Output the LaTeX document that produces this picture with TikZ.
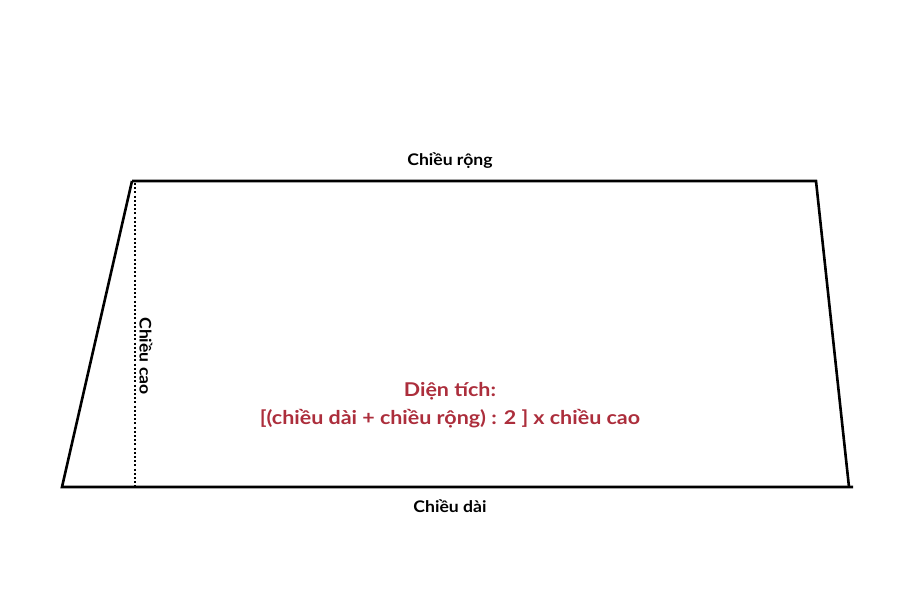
\documentclass[tikz,border=0pt]{standalone}
\usepackage{fontspec}
\setmainfont{Lato}
\newfontfamily\lblfont{Lato}[FakeStretch=1.1]
\newfontfamily\formfont{Lato}[FakeStretch=1.13]
\definecolor{titlered}{RGB}{172,46,60}
\begin{document}
\begin{tikzpicture}[x=1pt,y=-1pt,
  edge/.style={line width=2.6pt,line cap=butt,line join=miter},
  heightline/.style={line width=2pt,dash pattern=on 2pt off 2.2pt},
  lbl/.style={font=\lblfont\bfseries\fontsize{16}{18}\selectfont,text=black,inner sep=0pt},
  formula/.style={font=\formfont\bfseries\fontsize{19}{28}\selectfont,text=titlered,align=center,inner sep=0pt}]
\useasboundingbox (0,0) rectangle (900,600);
\coordinate (tl) at (132,181);
\coordinate (tr) at (816,181);
\coordinate (br) at (849,487);
\coordinate (bl) at (62,487);
\coordinate (brx) at (853,487);
\coordinate (ht) at (135,183);
\coordinate (hb) at (135,486);
\draw[edge] (tl) -- (tr) -- (br);
\draw[edge] (tl) -- (bl) -- (brx);
\draw[heightline] (ht) -- (hb);
\node[lbl] (wide) at (450,161) {Chiều rộng};
\node[lbl] (long) at (450,506) {Chiều dài};
\node[lbl,rotate=-90] (tall) at (146,356) {Chiều cao};
\node[formula] (area) at (450,405) {Diện tích:\\{}{[}(chiều dài + chiều rộng) : 2 {]} x chiều cao};
\end{tikzpicture}
\end{document}
